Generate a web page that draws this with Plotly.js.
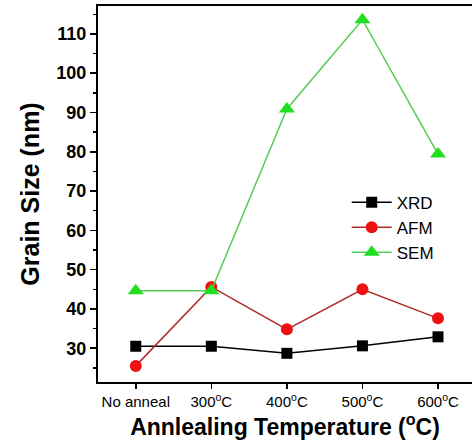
<!DOCTYPE html>
<html><head><meta charset="utf-8">
<script src="https://cdn.plot.ly/plotly-3.0.1.min.js"></script>
<style>html,body{margin:0;padding:0;background:#fff;}#chart{width:472px;height:444px;}</style>
</head><body><div id="chart"></div>
<script>
const categories = ["No anneal", "300<sup>o</sup>C", "400<sup>o</sup>C", "500<sup>o</sup>C", "600<sup>o</sup>C"];
const xrd = [30.5, 30.5, 28.7, 30.6, 32.9];
const afm = [25.5, 45.6, 34.8, 45.0, 37.6];
const sem = [44.6, 44.6, 90.9, 113.6, 79.4];

const traces = [
  {x: categories, y: xrd, name: "XRD", type: "scatter", mode: "lines+markers",
   line: {color: "#000000", width: 1.5}, marker: {symbol: "square", size: 11, color: "#000000"}},
  {x: categories, y: afm, name: "AFM", type: "scatter", mode: "lines+markers",
   line: {color: "#b02a2a", width: 1.5}, marker: {symbol: "circle", size: 12, color: "#ee1111"}},
  {x: categories, y: sem, name: "SEM", type: "scatter", mode: "lines+markers",
   line: {color: "#55cc55", width: 1.5}, marker: {symbol: "triangle-up", size: 14, color: "#22dd22"}}
];

const layout = {
  width: 472, height: 444,
  margin: {l: 98, r: 0, t: 6, b: 62},
  paper_bgcolor: "#fff", plot_bgcolor: "#fff",
  showlegend: true,
  legend: {x: 0.665, y: 0.525, xanchor: "left", yanchor: "top", bgcolor: "rgba(0,0,0,0)",
           font: {family: "Arial, Liberation Sans", size: 17, color: "#000"}, tracegroupgap: 0, itemwidth: 40},
  xaxis: {
    type: "category", range: [-0.5, 4.45],
    showline: true, linecolor: "#000", linewidth: 2, mirror: true,
    ticks: "outside", ticklen: 5, tickwidth: 1.5, tickcolor: "#000",
    showgrid: false, zeroline: false,
    tickfont: {family: "Arial, Liberation Sans", size: 15, color: "#000"},
    title: {text: "<b>Annlealing Temperature (<sup>o</sup>C)</b>", font: {family: "Arial, Liberation Sans", size: 23, color: "#000"}, standoff: 6}
  },
  yaxis: {
    range: [21.4, 117.1], tickvals: [30, 40, 50, 60, 70, 80, 90, 100, 110],
    showline: true, linecolor: "#000", linewidth: 2,
    ticks: "outside", ticklen: 6, tickwidth: 1.5, tickcolor: "#000",
    minor: {dtick: 5, tick0: 0, ticks: "outside", ticklen: 3, tickwidth: 1.5, tickcolor: "#000"},
    showgrid: false, zeroline: false,
    tickfont: {family: "Arial, Liberation Sans", size: 18, color: "#000", weight: "bold"},
    title: {text: "<b>Grain Size (nm)</b>", font: {family: "Arial, Liberation Sans", size: 25, color: "#000"}, standoff: 10}
  }
};
Plotly.newPlot("chart", traces, layout, {displayModeBar: false, staticPlot: true});
</script></body></html>
